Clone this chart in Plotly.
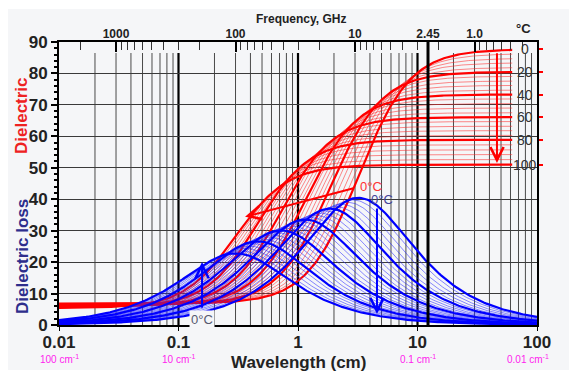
import numpy as np
import plotly.graph_objects as go

# ---------------- data ----------------
temps_c = [0, 4, 8, 12, 16, 20, 24, 28, 32, 36, 40, 44, 48, 52, 56, 60,
           64, 68, 72, 76, 80, 84, 88, 92, 96, 100]
# static (long-wavelength) dielectric constant of each isotherm
eps_static = [87.7, 86.3, 84.8, 83.4, 81.9, 80.5, 79.1, 77.6, 76.2, 74.7,
              73.3, 71.9, 70.4, 69.0, 67.5, 66.1, 64.7, 63.2, 61.8, 60.3,
              58.9, 57.3, 55.7, 54.2, 52.6, 51.0]
# short-wavelength limit
eps_inf = [6.80, 6.74, 6.69, 6.63, 6.58, 6.52, 6.46, 6.41, 6.35, 6.30,
           6.24, 6.18, 6.13, 6.07, 6.02, 5.96, 5.90, 5.85, 5.79, 5.74,
           5.68, 5.62, 5.57, 5.51, 5.46, 5.40]
# wavelength (cm) of the loss peak of each isotherm
peak_wavelength_cm = [3.20, 2.87, 2.57, 2.30, 2.06, 1.85, 1.68, 1.53, 1.39,
                      1.26, 1.15, 1.05, 0.955, 0.869, 0.791, 0.72, 0.658,
                      0.601, 0.551, 0.504, 0.46, 0.423, 0.388, 0.356, 0.327,
                      0.30]
label_temps = [0, 20, 40, 60, 80, 100]

wl_ticks = [0.01, 0.1, 1, 10, 100]
wl_ticktext = ["0.01", "0.1", "1", "10", "100"]
wavenumber_text = ["100 cm<sup>-1</sup>", "10 cm<sup>-1</sup>",
                   "0.1 cm<sup>-1</sup>", "0.01 cm<sup>-1</sup>"]
wavenumber_at = [0.01, 0.1, 10, 100]
freq_major_ghz = [1000, 100, 10, 2.45, 1.0]
freq_major_text = ["1000", "100", "10", "2.45", "1.0"]
freq_minor_ghz = [2000, 900, 800, 700, 600, 500, 400, 300, 200,
                  90, 80, 70, 60, 50, 40, 30, 20,
                  9, 8, 7, 6, 5, 4, 3, 2,
                  0.9, 0.8, 0.7, 0.6, 0.5, 0.4]
y_ticks = [0, 10, 20, 30, 40, 50, 60, 70, 80, 90]

# ---------------- styling ----------------
BG = "#f5f6f8"
FONT = "Liberation Sans, Arial, sans-serif"
C_CM_GHZ = 30.0  # wavelength (cm) = 30 / frequency (GHz)

wl_red = np.logspace(-2, np.log10(62), 260)
wl_blue = np.logspace(-2, 2, 300)

fig = go.Figure()


def debye(es, ei, lc, wl):
    x = lc / wl
    return ei + (es - ei) / (1 + x ** 2), (es - ei) * x / (1 + x ** 2)


def add_family(which, thick):
    for T, es, ei, lc in zip(temps_c, eps_static, eps_inf, peak_wavelength_cm):
        is_thick = T in label_temps
        if is_thick != thick:
            continue
        wl = wl_red if which == "red" else wl_blue
        e1, e2 = debye(es, ei, lc, wl)
        y = e1 if which == "red" else e2
        if which == "red":
            col = "#ff0000" if thick else "rgba(255,40,40,0.55)"
        else:
            col = "#0000ff" if thick else "rgba(40,40,255,0.55)"
        fig.add_trace(go.Scatter(x=wl, y=y, mode="lines",
                                 line=dict(color=col, width=2.2 if thick else 1),
                                 hoverinfo="skip", showlegend=False))


add_family("red", False)
add_family("red", True)
add_family("blue", False)
add_family("blue", True)

# invisible helpers so overlay axes are drawn
fig.add_trace(go.Scatter(x=[1], y=[0], xaxis="x2", mode="markers",
                         marker=dict(opacity=0), showlegend=False, hoverinfo="skip"))
fig.add_trace(go.Scatter(x=[1], y=[0], yaxis="y2", mode="markers",
                         marker=dict(opacity=0), showlegend=False, hoverinfo="skip"))

shapes = []
# background panel
shapes.append(dict(type="rect", xref="paper", yref="paper", x0=-0.13, x1=1.09,
                   y0=-0.159, y1=1.117, fillcolor=BG, line=dict(width=0),
                   layer="below"))
# vertical wavelength grid
for d in [-2, -1, 0, 1]:
    for k in range(1, 10):
        v = k * 10.0 ** d
        if v <= 0.0101 or v >= 99:
            continue
        major = (k == 1)
        shapes.append(dict(type="line", xref="x", yref="y",
                           x0=v, x1=v, y0=0, y1=86.5,
                           line=dict(color="#000" if major else "#4a4a4a",
                                     width=2.2 if major else 1),
                           layer="below"))
# 2.45 GHz line
x245 = C_CM_GHZ / 2.45
shapes.append(dict(type="line", xref="x", yref="y", x0=x245, x1=x245,
                   y0=0, y1=90, line=dict(color="#000", width=3)))


def pa(text, x, y, size, color, **kw):
    d = dict(x=x, y=y, xref="paper", yref="paper", text=text, showarrow=False,
             xanchor="center", yanchor="middle",
             font=dict(size=size, color=color, family=FONT))
    d.update(kw)
    return d


def px_x(p):  # page pixel -> paper x
    return (p - 59) / 478.0


def px_y(p):  # page pixel -> paper y
    return (325 - p) / 283.0


annotations = []
# right-hand temperature labels
for T, es in zip(temps_c, eps_static):
    if T in label_temps:
        annotations.append(dict(x=px_x(525), xref="paper", y=es, yref="y",
                                text=str(T), showarrow=False, xanchor="center",
                                yanchor="middle",
                                font=dict(size=14, color="#333", family=FONT)))
annotations += [
    pa("<b>°C</b>", px_x(523), px_y(29), 13, "#222"),
    pa("<b>Frequency, GHz</b>", px_x(301), px_y(19), 12, "#222"),
    pa("<b>Wavelength (cm)</b>", px_x(298), px_y(362), 17, "#222"),
    pa("<b>Dielectric</b>", px_x(22), px_y(116), 17, "#ee2222", textangle=-90),
    pa("<b>Dielectric loss</b>", px_x(22), px_y(257), 17, "#2e2e8c", textangle=-90),
]
for v, t in zip(wavenumber_at, wavenumber_text):
    xp = (np.log10(v) + 2) / 4
    xp = min(xp, px_x(528))
    annotations.append(pa(t, xp, px_y(359), 10, "#ff22ee"))
# arrows
annotations += [
    dict(x=-0.443, y=34.4, ax=0.477, ay=43.6, xref="x", yref="y", axref="x", ayref="y",
         showarrow=True, arrowhead=5, arrowsize=1.3, arrowwidth=2, arrowcolor="#ff0000", text=""),
    dict(x=1.665, y=51.5, ax=1.665, ay=86.9, xref="x", yref="y", axref="x", ayref="y",
         showarrow=True, arrowhead=5, arrowsize=1.3, arrowwidth=2, arrowcolor="#ff0000", text=""),
    dict(x=0.661, y=3.5, ax=0.661, ay=37.5, xref="x", yref="y", axref="x", ayref="y",
         showarrow=True, arrowhead=5, arrowsize=1.3, arrowwidth=2, arrowcolor="#0000ff", text=""),
    dict(x=-0.803, y=20, ax=-0.803, ay=5, xref="x", yref="y", axref="x", ayref="y",
         showarrow=True, arrowhead=5, arrowsize=1.3, arrowwidth=2, arrowcolor="#0000ff", text=""),
    dict(x=0.502, y=44.2, xref="x", yref="y", xanchor="left", yanchor="middle", text="0°C",
         showarrow=False, font=dict(size=13, color="#ff3333", family=FONT)),
    dict(x=0.594, y=39.8, xref="x", yref="y", xanchor="left", yanchor="middle", text="0°C",
         showarrow=False, font=dict(size=13, color="#44449a", family=FONT)),
    dict(x=-0.803, y=1.6, xref="x", yref="y", xanchor="center", yanchor="middle", text="0°C",
         showarrow=False, bgcolor=BG, font=dict(size=13, color="#555a70", family=FONT)),
]

fig.update_layout(
    # the page body has an 8px margin, so the figure is sized to fill 577x377 from there
    width=569, height=369,
    margin=dict(l=51, r=40, t=34, b=52),
    paper_bgcolor="white", plot_bgcolor="rgba(0,0,0,0)",
    showlegend=False,
    font=dict(family=FONT, color="#222"),
    xaxis=dict(type="log", range=[-2, 2], tickvals=wl_ticks,
               ticktext=["<b>%s</b>" % t for t in wl_ticktext],
               tickfont=dict(size=17, color="#222"), ticks="outside", ticklen=4,
               tickcolor="#000", showgrid=False, showline=True, linecolor="#000",
               linewidth=2, zeroline=False, ticklabelstandoff=-3),
    xaxis2=dict(type="log", range=[-2, 2], overlaying="x", side="top", anchor="y",
                tickvals=[C_CM_GHZ / f for f in freq_major_ghz],
                ticktext=["<b>%s</b>" % t for t in freq_major_text],
                tickfont=dict(size=12, color="#222"), ticks="inside", ticklen=10,
                tickwidth=2, tickcolor="#000", showgrid=False, showline=True,
                linecolor="#000", linewidth=2, zeroline=False, ticklabelstandoff=-3,
                minor=dict(tickmode="array", tickvals=[C_CM_GHZ / f for f in freq_minor_ghz],
                           ticks="inside", ticklen=8, tickwidth=1, tickcolor="#333")),
    yaxis=dict(range=[0, 90], tickvals=y_ticks,
               ticktext=["<b>%d</b>" % v for v in y_ticks],
               tickfont=dict(size=17, color="#222"), ticks="outside", ticklen=6,
               tickwidth=2, tickcolor="#000", showgrid=True, gridcolor="#3a3a3a",
               gridwidth=1, showline=True, linecolor="#000", linewidth=2,
               zeroline=False,
               minor=dict(dtick=2, ticks="outside", ticklen=3, tickcolor="#000", showgrid=False)),
    yaxis2=dict(range=[0, 90], overlaying="y", side="right", anchor="x",
                tickvals=[es for T, es in zip(temps_c, eps_static) if T in label_temps],
                showticklabels=False, ticks="outside", ticklen=4, tickwidth=2,
                tickcolor="#ff0000", showgrid=False, showline=True, linecolor="#000",
                linewidth=2, zeroline=False),
    shapes=shapes,
    annotations=annotations,
)

fig.write_html("out.html")
